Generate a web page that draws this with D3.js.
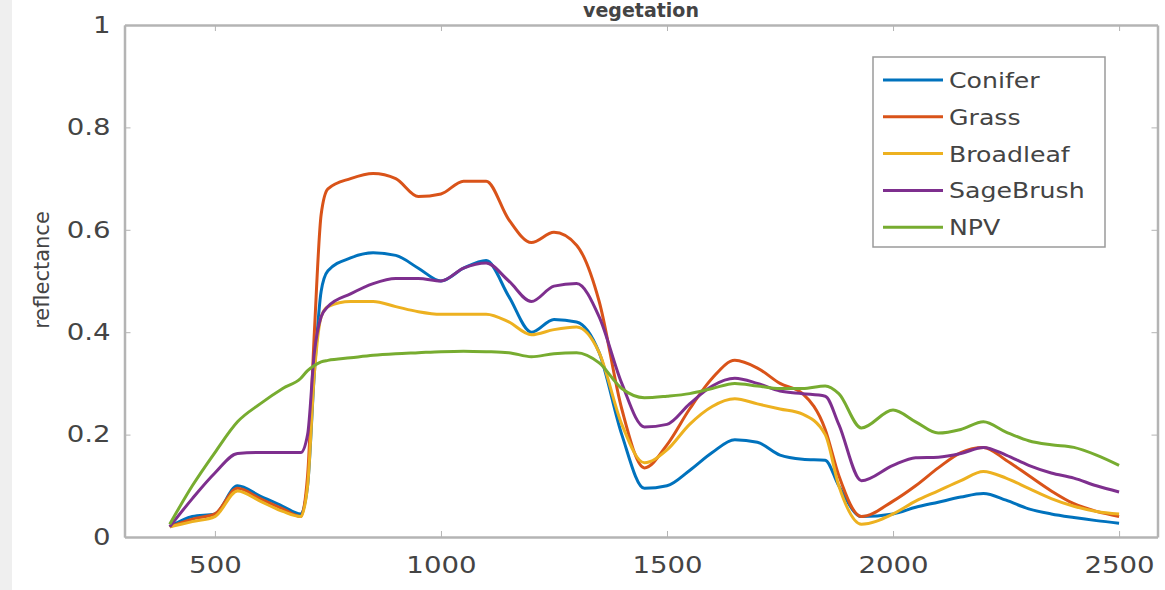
<!DOCTYPE html>
<html>
<head>
<meta charset="utf-8">
<script src="https://cdn.jsdelivr.net/npm/d3@7"></script>
<style>
  body { margin: 0; background: #fff; }
  #chart { width: 1165px; height: 590px; }
  .tick text, .label { font-family: "DejaVu Sans", sans-serif; fill: #444; }
</style>
</head>
<body>
<div id="chart"></div>
<script>
// wavelength grid (nm) shared by every series
var wavelengths = [400, 450, 500, 550, 600, 650, 690, 705, 720, 735, 750, 800, 850, 900, 950, 1000,
  1050, 1100, 1150, 1200, 1250, 1300, 1350, 1400, 1450, 1500, 1550, 1600, 1650, 1700, 1750,
  1800, 1850, 1880, 1930, 2000, 2050, 2100, 2150, 2200, 2250, 2300, 2350, 2400, 2450, 2500];

var conifer = [0.02, 0.04, 0.045, 0.10, 0.08, 0.06, 0.045, 0.10, 0.32, 0.48, 0.52, 0.545, 0.555, 0.55, 0.525, 0.50,
  0.525, 0.54, 0.47, 0.40, 0.425, 0.42, 0.36, 0.20, 0.095, 0.10, 0.13, 0.165, 0.19, 0.185, 0.16,
  0.152, 0.15, 0.10, 0.04, 0.045, 0.058, 0.068, 0.078, 0.085, 0.072, 0.055, 0.045, 0.038, 0.032, 0.027];

var grass = [0.02, 0.035, 0.045, 0.095, 0.075, 0.055, 0.04, 0.12, 0.40, 0.63, 0.68, 0.70, 0.71, 0.70, 0.665, 0.67,
  0.695, 0.695, 0.62, 0.575, 0.595, 0.57, 0.46, 0.25, 0.135, 0.18, 0.25, 0.31, 0.345, 0.33, 0.30,
  0.28, 0.21, 0.12, 0.04, 0.07, 0.10, 0.135, 0.165, 0.175, 0.15, 0.12, 0.09, 0.065, 0.05, 0.04];

var broadleaf = [0.02, 0.03, 0.04, 0.09, 0.07, 0.05, 0.04, 0.10, 0.32, 0.43, 0.45, 0.46, 0.46, 0.45, 0.44, 0.435,
  0.435, 0.435, 0.42, 0.395, 0.405, 0.41, 0.36, 0.22, 0.145, 0.17, 0.22, 0.255, 0.27, 0.26, 0.25,
  0.24, 0.20, 0.10, 0.025, 0.045, 0.07, 0.09, 0.11, 0.128, 0.115, 0.095, 0.075, 0.06, 0.05, 0.045];

var sagebrush = [0.02, 0.075, 0.125, 0.163, 0.165, 0.165, 0.165, 0.20, 0.36, 0.43, 0.45, 0.475, 0.495, 0.505, 0.505, 0.50,
  0.525, 0.535, 0.50, 0.46, 0.49, 0.495, 0.43, 0.30, 0.215, 0.22, 0.26, 0.295, 0.31, 0.30, 0.285,
  0.28, 0.275, 0.22, 0.11, 0.14, 0.155, 0.156, 0.163, 0.175, 0.16, 0.14, 0.125, 0.115, 0.10, 0.088];

var npv = [0.025, 0.10, 0.165, 0.225, 0.26, 0.29, 0.31, 0.325, 0.335, 0.342, 0.345, 0.35, 0.355, 0.358, 0.36, 0.362,
  0.363, 0.362, 0.36, 0.352, 0.358, 0.36, 0.34, 0.29, 0.272, 0.275, 0.28, 0.29, 0.30, 0.295, 0.29,
  0.29, 0.295, 0.28, 0.213, 0.248, 0.225, 0.203, 0.21, 0.225, 0.205, 0.188, 0.18, 0.175, 0.16, 0.14];

var seriesNames = ["Conifer", "Grass", "Broadleaf", "SageBrush", "NPV"];
var seriesValues = [conifer, grass, broadleaf, sagebrush, npv];
var seriesColors = ["#0072BD", "#D95319", "#EDB120", "#7E2F8E", "#77AC30"];

var xTicks = [500, 1000, 1500, 2000, 2500];
var yTicks = [0, 0.2, 0.4, 0.6, 0.8, 1];

var width = 1165, height = 590;
var svg = d3.select("#chart").append("svg")
  .attr("width", width)
  .attr("height", height);

// grey strip on the far left of the figure
svg.append("rect").attr("x", 0).attr("y", 0).attr("width", 12).attr("height", height).attr("fill", "#efefef");

var x = d3.scaleLinear().domain([300, 2585]).range([124.5, 1157.5]);
var y = d3.scaleLinear().domain([0, 1]).range([537, 25]);

var axisColor = "#b4b4b4";
var stretch = 1.2; // the source image is wider than tall, text looks stretched

// bottom axis
var xAxis = svg.append("g")
  .attr("transform", "translate(0," + y(0) + ")")
  .call(d3.axisBottom(x).tickValues(xTicks).tickFormat(d3.format("d"))
    .tickSizeInner(-6).tickSizeOuter(0).tickPadding(20));
xAxis.select(".domain").attr("stroke", axisColor).attr("stroke-width", 2.5);
xAxis.selectAll(".tick line").attr("stroke", axisColor);
xAxis.selectAll(".tick text").attr("font-size", 23)
  .attr("transform", "scale(" + stretch + ",1)");

// left axis
var yAxis = svg.append("g")
  .attr("transform", "translate(" + x(300) + ",0)")
  .call(d3.axisLeft(y).tickValues(yTicks).tickFormat(d3.format("~g")).tickSizeInner(-6).tickSizeOuter(0).tickPadding(12));
yAxis.select(".domain").attr("stroke", axisColor).attr("stroke-width", 2.5);
yAxis.selectAll(".tick line").attr("stroke", axisColor);
yAxis.selectAll(".tick text").attr("font-size", 23)
  .attr("transform", "translate(-2,0) scale(" + stretch + ",1)")
  .attr("x", -12 / stretch);

// top and right edges of the box, with ticks pointing inwards
var topAxis = svg.append("g")
  .attr("transform", "translate(0," + y(1) + ")")
  .call(d3.axisTop(x).tickValues(xTicks).tickSizeInner(-6).tickSizeOuter(0).tickFormat(""));
topAxis.select(".domain").attr("stroke", axisColor).attr("stroke-width", 2.5);
topAxis.selectAll(".tick line").attr("stroke", axisColor);

var rightAxis = svg.append("g")
  .attr("transform", "translate(" + x(2585) + ",0)")
  .call(d3.axisRight(y).tickValues(yTicks).tickSizeInner(-6).tickSizeOuter(0).tickFormat(""));
rightAxis.select(".domain").attr("stroke", axisColor).attr("stroke-width", 2.5);
rightAxis.selectAll(".tick line").attr("stroke", axisColor);

// the spectra
var line = d3.line()
  .x(function (d) { return x(d[0]); })
  .y(function (d) { return y(d[1]); })
  .curve(d3.curveMonotoneX);

seriesValues.forEach(function (vals, i) {
  var pts = wavelengths.map(function (w, j) { return [w, vals[j]]; });
  svg.append("path")
    .attr("d", line(pts))
    .attr("fill", "none")
    .attr("stroke", seriesColors[i])
    .attr("stroke-width", 3)
    .attr("stroke-linejoin", "round");
});

// title at the very top
svg.append("text")
  .attr("class", "label")
  .attr("x", (x(300) + x(2585)) / 2)
  .attr("y", 17)
  .attr("text-anchor", "middle")
  .attr("font-size", 19)
  .attr("font-weight", "bold")
  .attr("fill", "#222")
  .text("vegetation");

// y axis label
svg.append("text")
  .attr("class", "label")
  .attr("transform", "translate(49,270) rotate(-90)")
  .attr("text-anchor", "middle")
  .attr("font-size", 21)
  .text("reflectance");

// legend
var legend = svg.append("g");
legend.append("rect")
  .attr("x", 873).attr("y", 57)
  .attr("width", 232).attr("height", 190)
  .attr("fill", "#fff")
  .attr("stroke", "#9a9a9a")
  .attr("stroke-width", 1.5);

seriesNames.forEach(function (name, i) {
  var ly = 80 + i * 36.8;
  legend.append("line")
    .attr("x1", 883).attr("x2", 943)
    .attr("y1", ly).attr("y2", ly)
    .attr("stroke", seriesColors[i])
    .attr("stroke-width", 3);
  legend.append("text")
    .attr("class", "label")
    .attr("transform", "translate(949," + (ly + 8) + ") scale(1.2,1)")
    .attr("font-size", 21)
    .text(name);
});
</script>
</body>
</html>
